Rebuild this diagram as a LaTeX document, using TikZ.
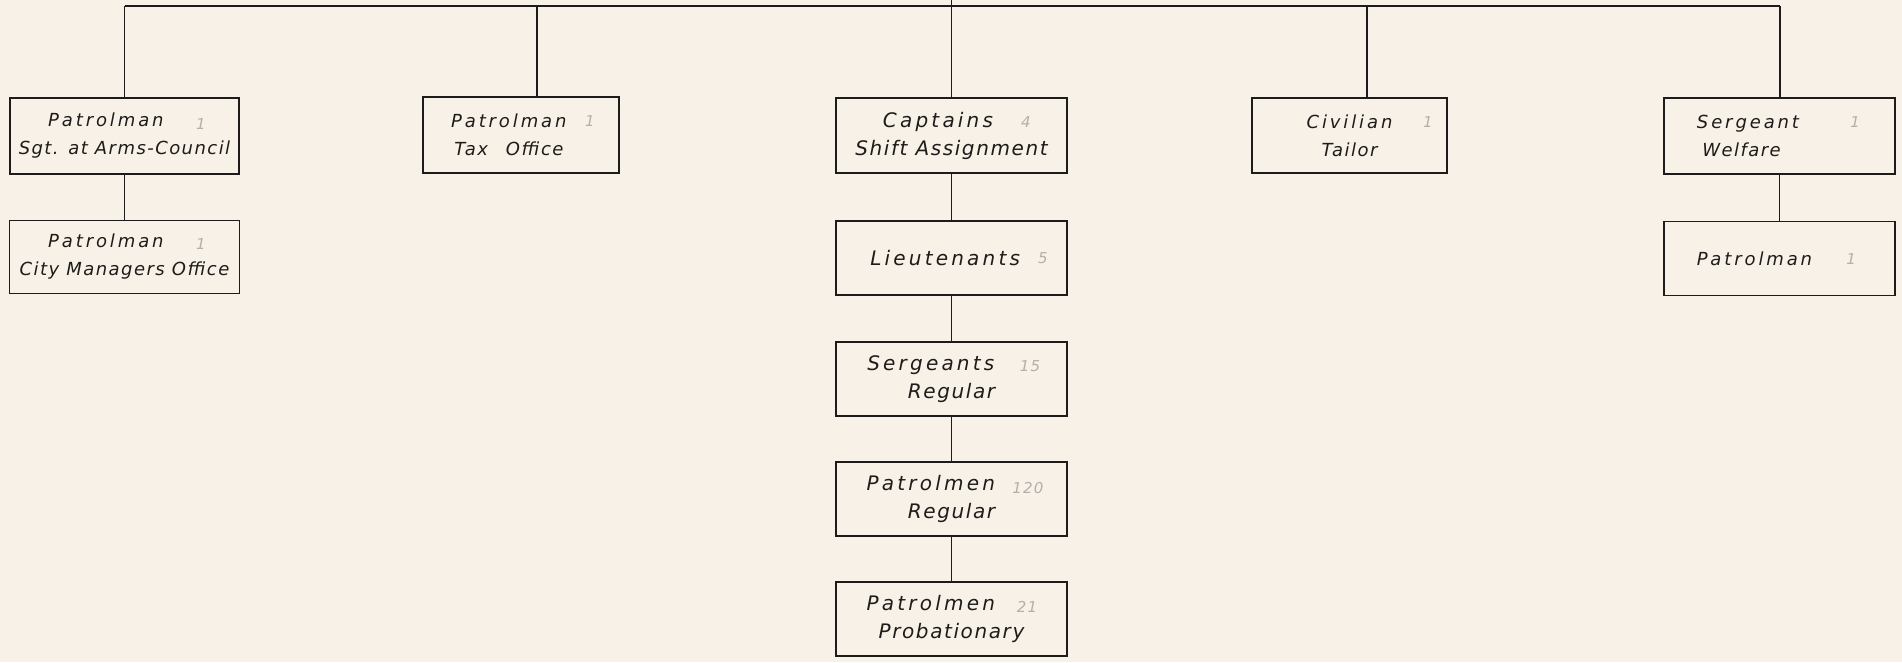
\documentclass[tikz,border=0pt]{standalone}
\usepackage{fontspec}
\setmainfont{DejaVu Sans}[LetterSpace=8]
\newfontfamily\titlefam{DejaVu Sans}[LetterSpace=16]
\definecolor{paper}{RGB}{248,241,231}
\definecolor{ink}{RGB}{30,28,26}
\definecolor{pencil}{RGB}{180,175,170}
\newcommand{\ttl}[1]{{\titlefam\itshape #1}}
\begin{document}
\begin{tikzpicture}[x=1pt,y=-1pt,
  orgbox/.style={draw=ink, line width=1.7pt, fill=paper, inner sep=0pt, align=center,
    font=\fontsize{18}{28}\selectfont\itshape, text=ink},
  bigtext/.style={font=\fontsize{20}{28}\selectfont\itshape},
  conn/.style={draw=ink, line width=1.3pt},
  count/.style={text=pencil, font=\fontsize{15}{16}\selectfont\itshape, inner sep=0pt}]
\fill[paper] (0,0) rectangle (1902,662);
\useasboundingbox (0,0) rectangle (1902,662);
% boxes
\node[orgbox, minimum width=229pt, minimum height=76pt] (a1) at (124.5,136) {\ttl{Patrolman}\phantom{000}\\Sgt. at Arms-Council};
\node[orgbox, minimum width=230pt, minimum height=73pt] (a2) at (124.5,257) {\ttl{Patrolman}\phantom{000}\\City Managers Office};
\node[orgbox, minimum width=196pt, minimum height=76pt] (b) at (521,135) {\ttl{Patrolman}\phantom{00}\\Tax\quad Office\phantom{00}};
\node[orgbox, bigtext, minimum width=231pt, minimum height=75pt] (c1) at (951.5,135.5) {\ttl{Captains}\phantom{00}\\Shift Assignment};
\node[orgbox, bigtext, minimum width=231pt, minimum height=74pt] (c2) at (951.5,258) {\ttl{Lieutenants}\phantom{0}};
\node[orgbox, bigtext, minimum width=231pt, minimum height=74pt] (c3) at (951.5,379) {\ttl{Sergeants}\phantom{000}\\Regular};
\node[orgbox, bigtext, minimum width=231pt, minimum height=74pt] (c4) at (951.5,499) {\ttl{Patrolmen}\phantom{000}\\Regular};
\node[orgbox, bigtext, minimum width=231pt, minimum height=74pt] (c5) at (951.5,619) {\ttl{Patrolmen}\phantom{000}\\Probationary};
\node[orgbox, minimum width=195pt, minimum height=75pt] (d) at (1349.5,135.5) {\ttl{Civilian}\\Tailor};
\node[orgbox, minimum width=231pt, minimum height=76pt] (e1) at (1779.5,136) {\ttl{Sergeant}\phantom{00000}\\Welfare\phantom{000000}};
\node[orgbox, minimum width=231pt, minimum height=74pt] (e2) at (1779.5,258.5) {\ttl{Patrolman}\phantom{0000}};
% faint pencil counts
\node[count] (n1) at (201,124) {1};
\node[count] (n2) at (201,244) {1};
\node[count] (n3) at (590,121) {1};
\node[count] (n4) at (1026,122) {4};
\node[count] (n5) at (1043,258) {5};
\node[count] (n6) at (1030,366) {15};
\node[count] (n7) at (1028,488) {120};
\node[count] (n8) at (1027,607) {21};
\node[count] (n9) at (1428,122) {1};
\node[count] (n10) at (1855,122) {1};
\node[count] (n11) at (1851,259) {1};
% connectors
\coordinate (top) at (951.5,0);
\coordinate (tl) at (124.5,6);
\coordinate (tr) at (1780,6);
\coordinate (tb) at (537,6);
\coordinate (td) at (1367,6);
\draw[conn] (tl) -- (tr);
\draw[conn] (top) -- (c1.north);
\draw[conn] (tl) -- (a1.north);
\draw[conn] (tb) -- (tb |- b.north);
\draw[conn] (td) -- (td |- d.north);
\draw[conn] (tr) -- (tr |- e1.north);
\draw[conn] (a1.south) -- (a2.north);
\draw[conn] (c1.south) -- (c2.north);
\draw[conn] (c2.south) -- (c3.north);
\draw[conn] (c3.south) -- (c4.north);
\draw[conn] (c4.south) -- (c5.north);
\draw[conn] (e1.south) -- (e2.north);
\end{tikzpicture}
\end{document}
